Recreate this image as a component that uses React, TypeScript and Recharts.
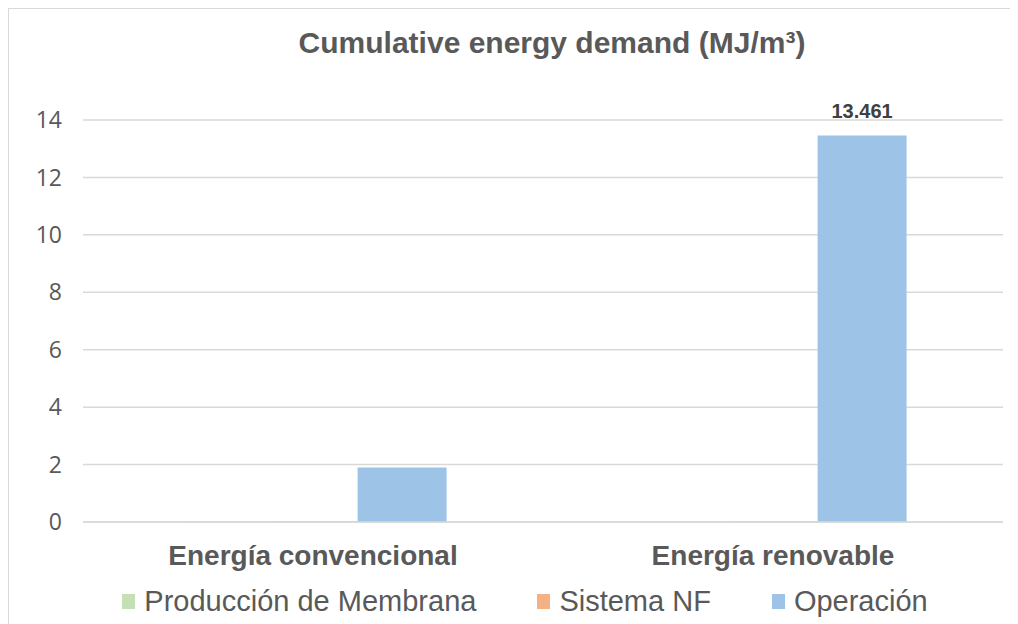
import React from 'react';
import {
  BarChart,
  Bar,
  XAxis,
  YAxis,
  CartesianGrid,
  Legend,
  LabelList,
  Customized,
} from 'recharts';

// Categories and series values (MJ/m³)
const categories = ['Energía convencional', 'Energía renovable'];
const produccionMembrana = [0.03, 0.03];
const sistemaNF = [0.02, 0.02];
const operacion = [1.9, 13.461];
const labeledOperacion = [false, true];
const yTicks = [0, 2, 4, 6, 8, 10, 12, 14];

const seriesNames = ['Producción de Membrana', 'Sistema NF', 'Operación'];
const seriesKeys = ['membrana', 'nf', 'operacion'];
const seriesColors = ['#c5e0b4', '#f4b183', '#9dc3e6'];

const titleText = 'Cumulative energy demand (MJ/m³)';

const data = categories.map((category, i) => ({
  category,
  membrana: produccionMembrana[i],
  nf: sistemaNF[i],
  operacion: operacion[i],
  operacionLabel: labeledOperacion[i] ? operacion[i] : null,
}));

const CHART_W = 1020;
const CHART_H = 630;
const TEXT = '#595959';
const GRID = '#d9d9d9';
const SANS = '"Liberation Sans", Arial, sans-serif';

const CategoryTick = (props: any) => {
  const { x, y, payload } = props;
  return (
    <text
      x={x}
      y={y}
      dy={43}
      textAnchor="middle"
      fill={TEXT}
      fontFamily={SANS}
      fontWeight="bold"
      fontSize={28}
    >
      {payload.value}
    </text>
  );
};

const ValueLabel = (props: any) => {
  const { x, y, width, value } = props;
  if (value === null || value === undefined) return null;
  return (
    <text
      x={Number(x) + Number(width) / 2}
      y={Number(y) - 17}
      textAnchor="middle"
      fill="#404040"
      fontFamily={SANS}
      fontWeight="bold"
      fontSize={20}
    >
      {String(value)}
    </text>
  );
};

const LegendContent = () => (
  <div
    style={{
      height: 40,
      width: '100%',
      boxSizing: 'border-box',
      paddingLeft: 38,
      display: 'flex',
      alignItems: 'center',
      justifyContent: 'center',
      gap: 61,
      fontFamily: SANS,
      fontSize: 29,
      color: TEXT,
    }}
  >
    {seriesNames.map((name, i) => (
      <div key={name} style={{ display: 'flex', alignItems: 'center' }}>
        <span
          style={{
            display: 'inline-block',
            width: 13,
            height: 15,
            background: seriesColors[i],
            marginRight: 9,
          }}
        />
        <span style={{ whiteSpace: 'nowrap', lineHeight: '40px' }}>{name}</span>
      </div>
    ))}
  </div>
);

const Title = () => (
  <text
    x={543}
    y={43.5}
    textAnchor="middle"
    fill={TEXT}
    fontFamily={SANS}
    fontWeight="bold"
    fontSize={30}
  >
    {titleText}
  </text>
);

export default function App() {
  return (
    <>
      <style>{`html, body { overflow: hidden; }`}</style>
      <div
        style={{
          position: 'relative',
          width: 1040,
          height: 650,
          border: `1px solid ${GRID}`,
          boxSizing: 'border-box',
          background: '#ffffff',
        }}
      >
        <BarChart
          width={CHART_W}
          height={CHART_H}
          data={data}
          margin={{ top: 111, right: 26, left: 0, bottom: 18 }}
          barCategoryGap="21%"
          barGap={0}
        >
          <CartesianGrid vertical={false} stroke={GRID} strokeWidth={1.5} />
          <XAxis
            dataKey="category"
            height={59}
            tickLine={false}
            tickSize={0}
            tickMargin={0}
            axisLine={{ stroke: GRID, strokeWidth: 1.5 }}
            tick={<CategoryTick />}
            interval={0}
          />
          <YAxis
            width={74}
            domain={[0, 14]}
            ticks={yTicks}
            axisLine={false}
            tickLine={false}
            tickSize={0}
            tickMargin={21}
            tick={{ fill: TEXT, fontSize: 23, fontFamily: '"Open Sans", sans-serif' }}
          />
          <Legend verticalAlign="bottom" content={<LegendContent />} />
          {seriesKeys.map((key, i) => (
            <Bar
              key={key}
              dataKey={key}
              name={seriesNames[i]}
              fill={seriesColors[i]}
              isAnimationActive={false}
            >
              {key === 'operacion' ? (
                <LabelList dataKey="operacionLabel" content={<ValueLabel />} />
              ) : null}
            </Bar>
          ))}
          <Customized component={<Title />} />
        </BarChart>
      </div>
    </>
  );
}
